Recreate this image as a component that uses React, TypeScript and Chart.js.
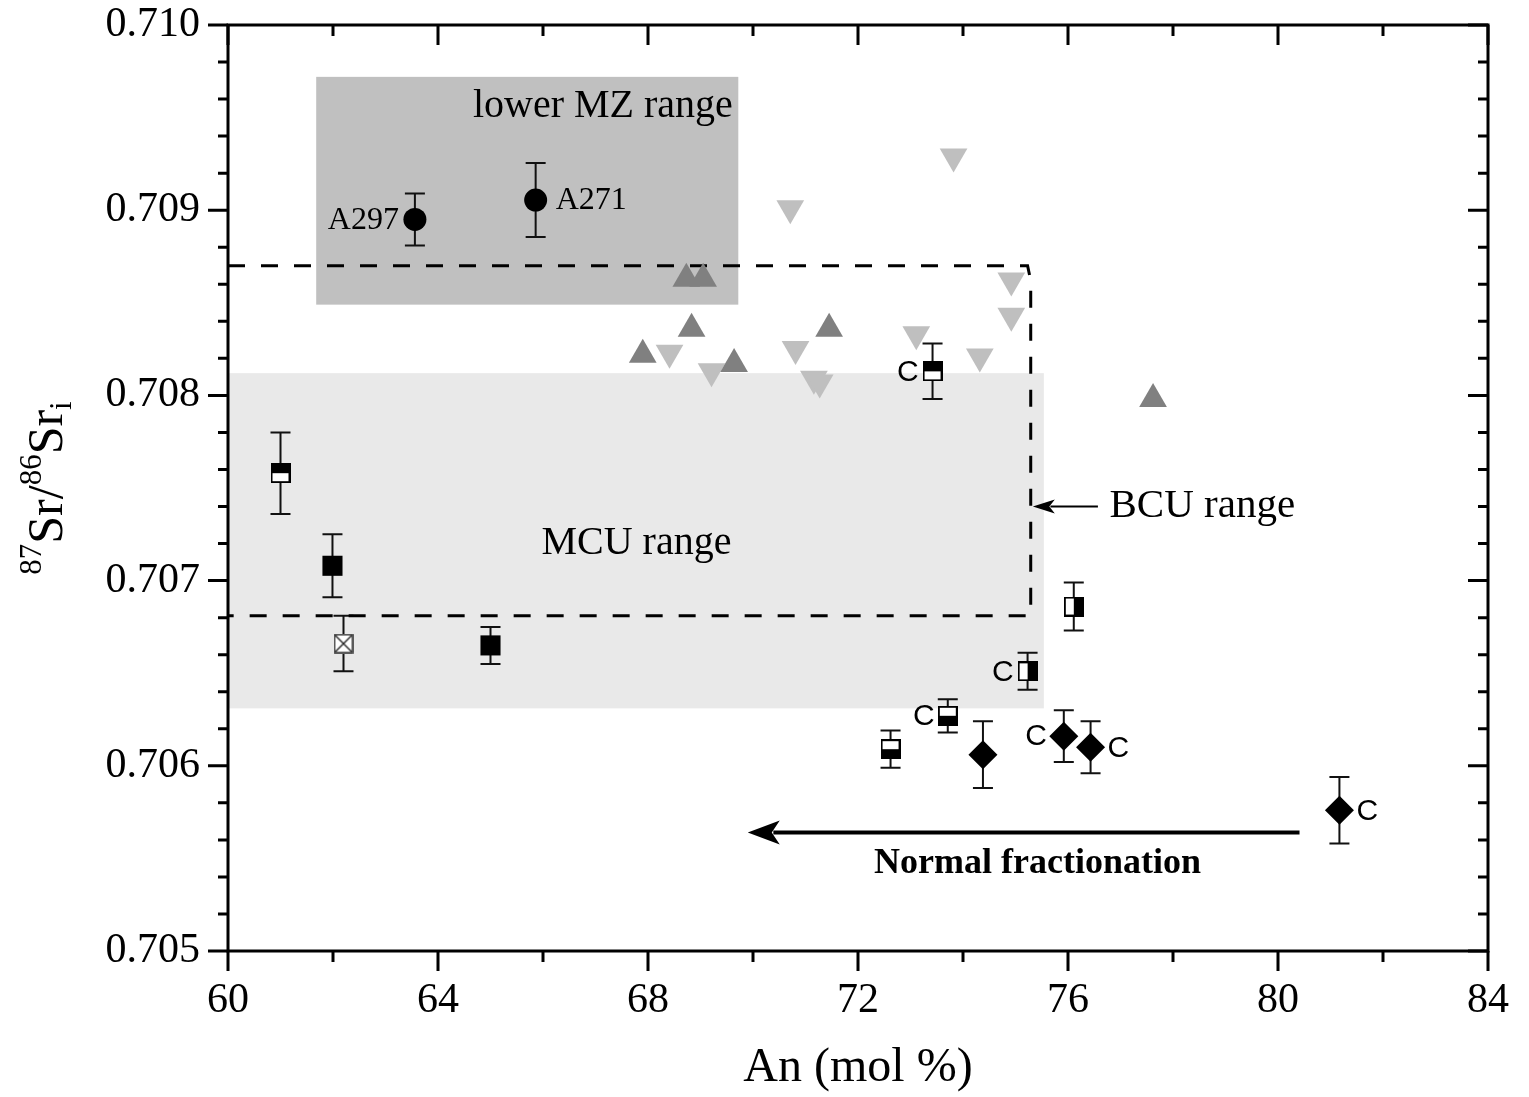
import React, { useEffect, useRef } from 'react';
import { Chart, registerables } from 'chart.js';

Chart.register(...registerables);

// ---- axis ticks ----
const xTickValues = [60, 64, 68, 72, 76, 80, 84];
const yTickValues = [0.705, 0.706, 0.707, 0.708, 0.709, 0.71];
const xMinorStep = 2;
const yMinorStep = 0.0002;

// ---- series (An mol %, 87Sr/86Sr_i, 1 sigma error) ----
const circleX = [63.56, 65.86];
const circleY = [0.70895, 0.709055];
const circleErr = [0.00014, 0.0002];
const circleNames = ['A297', 'A271'];

const solidSquareX = [61.99, 65.0];
const solidSquareY = [0.70708, 0.70665];
const solidSquareErr = [0.00017, 0.0001];

const topHalfSquareX = [61.0, 73.42];
const topHalfSquareY = [0.70758, 0.70813];
const topHalfSquareErr = [0.00022, 0.00015];
const topHalfSquareC = ['', 'L'];

const bottomHalfSquareX = [72.62, 73.71];
const bottomHalfSquareY = [0.70609, 0.70627];
const bottomHalfSquareErr = [0.0001, 0.00009];
const bottomHalfSquareC = ['', 'L'];

const rightHalfSquareX = [75.23, 76.11];
const rightHalfSquareY = [0.70651, 0.70686];
const rightHalfSquareErr = [0.0001, 0.00013];
const rightHalfSquareC = ['L', ''];

const crossSquareX = [62.2];
const crossSquareY = [0.70666];
const crossSquareErr = [0.00015];

const diamondX = [74.38, 75.92, 76.43, 81.17];
const diamondY = [0.70606, 0.70616, 0.7061, 0.70576];
const diamondErr = [0.00018, 0.00014, 0.00014, 0.00018];
const diamondC = ['', 'L', 'R', 'R'];

const upTriangleX = [67.9, 68.73, 68.83, 69.05, 69.64, 71.45, 77.62];
const upTriangleY = [0.70822, 0.70863, 0.70836, 0.70863, 0.70817, 0.70836, 0.70798];

const downTriangleX = [68.41, 69.21, 70.71, 70.81, 71.16, 71.27, 73.11, 73.82, 74.32, 74.92, 74.92];
const downTriangleY = [0.70823, 0.70813, 0.70901, 0.70825, 0.70809, 0.70807, 0.70833, 0.70929, 0.70821, 0.70862, 0.70843];

// ---- ranges ----
const mzRangeX = [61.68, 69.72];
const mzRangeY = [0.70849, 0.70972];
const mcuRangeX = [60, 75.54];
const mcuRangeY = [0.70631, 0.70812];
const bcuX = [60, 75.23, 75.29, 75.29, 60];
const bcuY = [0.7087, 0.7087, 0.70862, 0.70681, 0.70681];

// ---- arrows ----
const fractionArrowX = [80.41, 69.9];
const fractionArrowY = [0.70564, 0.70564];
const bcuArrowX = [76.57, 75.33];
const bcuArrowY = [0.7074, 0.7074];

// ---- text annotations (anchored in data space) ----
const annotationTexts = ['lower MZ range', 'MCU range', 'BCU range', 'Normal fractionation'];
const annotationX = [67.14, 67.78, 76.79, 75.42];
const annotationY = [0.70956, 0.7072, 0.7074, 0.70547];

const SERIF = "'Liberation Serif', 'Times New Roman', Times, serif";
const SANS = "'Liberation Sans', Arial, Helvetica, sans-serif";

const pts = (xs: number[], ys: number[]) => xs.map((x, i) => ({ x, y: ys[i] }));

export default function App() {
  const ref = useRef<HTMLCanvasElement>(null);

  useEffect(() => {
    const canvas = ref.current!;

    const makeMarker = (kind: string) => {
      const c = document.createElement('canvas');
      c.width = 20;
      c.height = 20;
      const g = c.getContext('2d')!;
      g.fillStyle = '#fff';
      g.fillRect(0, 0, 20, 20);
      g.fillStyle = '#000';
      if (kind === 'top') g.fillRect(0, 0, 20, 10);
      if (kind === 'bottom') g.fillRect(0, 10, 20, 10);
      if (kind === 'right') g.fillRect(10, 0, 10, 20);
      if (kind === 'cross') {
        g.strokeStyle = '#222';
        g.lineWidth = 1.4;
        g.beginPath();
        g.moveTo(2, 2);
        g.lineTo(18, 18);
        g.moveTo(18, 2);
        g.lineTo(2, 18);
        g.stroke();
      }
      g.strokeStyle = kind === 'cross' ? '#333' : '#000';
      g.lineWidth = kind === 'cross' ? 1.6 : 2;
      g.strokeRect(1, 1, 18, 18);
      return c;
    };

    const topMarker = makeMarker('top');
    const bottomMarker = makeMarker('bottom');
    const rightMarker = makeMarker('right');
    const crossMarker = makeMarker('cross');

    const overlay = {
      id: 'overlay',
      beforeDatasetsDraw(chart: any) {
        const { ctx } = chart;
        const xs = chart.scales.x;
        const ys = chart.scales.y;
        const fillRegion = (rx: number[], ry: number[], color: string) => {
          const x1 = xs.getPixelForValue(rx[0]);
          const x2 = xs.getPixelForValue(rx[1]);
          const y1 = ys.getPixelForValue(ry[1]);
          const y2 = ys.getPixelForValue(ry[0]);
          ctx.save();
          ctx.fillStyle = color;
          ctx.fillRect(x1, y1, x2 - x1, y2 - y1);
          ctx.restore();
        };
        fillRegion(mcuRangeX, mcuRangeY, '#e9e9e9');
        fillRegion(mzRangeX, mzRangeY, '#c0c0c0');

        // error bars
        ctx.save();
        ctx.strokeStyle = '#111';
        ctx.lineWidth = 2;
        chart.data.datasets.forEach((ds: any, i: number) => {
          if (!ds.errors) return;
          const meta = chart.getDatasetMeta(i);
          meta.data.forEach((el: any, j: number) => {
            const v = ds.data[j].y;
            const e = ds.errors[j];
            const px = el.x;
            const yTop = ys.getPixelForValue(v + e);
            const yBot = ys.getPixelForValue(v - e);
            ctx.beginPath();
            ctx.moveTo(px, yTop);
            ctx.lineTo(px, yBot);
            ctx.moveTo(px - 10, yTop);
            ctx.lineTo(px + 10, yTop);
            ctx.moveTo(px - 10, yBot);
            ctx.lineTo(px + 10, yBot);
            ctx.stroke();
          });
        });
        ctx.restore();
      },
      afterDatasetsDraw(chart: any) {
        const { ctx } = chart;
        const xs = chart.scales.x;
        const ys = chart.scales.y;

        // sample name labels
        ctx.save();
        ctx.fillStyle = '#000';
        ctx.textBaseline = 'middle';
        ctx.font = `32px ${SERIF}`;
        circleNames.forEach((name, i) => {
          const px = xs.getPixelForValue(circleX[i]);
          const py = ys.getPixelForValue(circleY[i]);
          if (i === 0) {
            ctx.textAlign = 'right';
            ctx.fillText(name, px - 16, py + 1);
          } else {
            ctx.textAlign = 'left';
            ctx.fillText(name, px + 20, py + 1);
          }
        });

        // "C" labels
        ctx.font = `30px ${SANS}`;
        const cLabels = (X: number[], Y: number[], flags: string[], off: number) => {
          flags.forEach((f, i) => {
            if (!f) return;
            const px = xs.getPixelForValue(X[i]);
            const py = ys.getPixelForValue(Y[i]);
            if (f === 'L') {
              ctx.textAlign = 'right';
              ctx.fillText('C', px - off, py + 1);
            } else {
              ctx.textAlign = 'left';
              ctx.fillText('C', px + off, py + 1);
            }
          });
        };
        cLabels(topHalfSquareX, topHalfSquareY, topHalfSquareC, 14);
        cLabels(bottomHalfSquareX, bottomHalfSquareY, bottomHalfSquareC, 13);
        cLabels(rightHalfSquareX, rightHalfSquareY, rightHalfSquareC, 14);
        cLabels(diamondX, diamondY, diamondC, 17);

        // annotations
        annotationTexts.forEach((t, i) => {
          const px = xs.getPixelForValue(annotationX[i]);
          const py = ys.getPixelForValue(annotationY[i]);
          if (i === 3) {
            ctx.font = `bold 36px ${SERIF}`;
            ctx.textAlign = 'center';
          } else if (i === 2) {
            ctx.font = `41px ${SERIF}`;
            ctx.textAlign = 'left';
          } else {
            ctx.font = `40px ${SERIF}`;
            ctx.textAlign = 'center';
          }
          ctx.fillText(t, px, py);
        });

        // arrows
        const arrow = (AX: number[], AY: number[], lw: number, headLen: number, headHalf: number) => {
          const x1 = xs.getPixelForValue(AX[0]);
          const y1 = ys.getPixelForValue(AY[0]);
          const x2 = xs.getPixelForValue(AX[1]);
          const y2 = ys.getPixelForValue(AY[1]);
          const ang = Math.atan2(y2 - y1, x2 - x1);
          const bx = x2 - Math.cos(ang) * headLen * 0.8;
          const by = y2 - Math.sin(ang) * headLen * 0.8;
          ctx.strokeStyle = '#000';
          ctx.lineWidth = lw;
          ctx.beginPath();
          ctx.moveTo(x1, y1);
          ctx.lineTo(bx, by);
          ctx.stroke();
          ctx.fillStyle = '#000';
          ctx.beginPath();
          ctx.moveTo(x2, y2);
          const hx = x2 - Math.cos(ang) * headLen;
          const hy = y2 - Math.sin(ang) * headLen;
          ctx.lineTo(hx - Math.sin(ang) * headHalf, hy + Math.cos(ang) * headHalf);
          ctx.lineTo(x2 - Math.cos(ang) * headLen * 0.75, y2 - Math.sin(ang) * headLen * 0.75);
          ctx.lineTo(hx + Math.sin(ang) * headHalf, hy - Math.cos(ang) * headHalf);
          ctx.closePath();
          ctx.fill();
        };
        arrow(fractionArrowX, fractionArrowY, 4, 32, 12);
        arrow(bcuArrowX, bcuArrowY, 2, 22, 7);
        ctx.restore();
      },
      afterDraw(chart: any) {
        const { ctx, chartArea } = chart;
        const xs = chart.scales.x;
        const ys = chart.scales.y;
        const { left, right, top, bottom } = chartArea;
        ctx.save();
        ctx.strokeStyle = '#000';
        ctx.lineWidth = 3;
        ctx.strokeRect(left, top, right - left, bottom - top);
        ctx.beginPath();
        const xMin = xTickValues[0];
        const xMax = xTickValues[xTickValues.length - 1];
        const nx = Math.round((xMax - xMin) / xMinorStep);
        for (let k = 0; k <= nx; k++) {
          const v = xMin + k * xMinorStep;
          const px = xs.getPixelForValue(v);
          const major = xTickValues.some((t) => Math.abs(t - v) < 1e-9);
          const len = major ? 20 : 11;
          ctx.moveTo(px, bottom);
          ctx.lineTo(px, bottom + len);
          ctx.moveTo(px, top);
          ctx.lineTo(px, top + len);
        }
        const yMin = yTickValues[0];
        const yMax = yTickValues[yTickValues.length - 1];
        const ny = Math.round((yMax - yMin) / yMinorStep);
        for (let k = 0; k <= ny; k++) {
          const v = yMin + k * yMinorStep;
          const py = ys.getPixelForValue(v);
          const major = yTickValues.some((t) => Math.abs(t - v) < 1e-9);
          const len = major ? 20 : 10;
          ctx.moveTo(left - len, py);
          ctx.lineTo(left, py);
          ctx.moveTo(right - len, py);
          ctx.lineTo(right, py);
        }
        ctx.stroke();

        // y-axis title with super/subscripts
        ctx.translate(45, (top + bottom) / 2);
        ctx.rotate(-Math.PI / 2);
        ctx.fillStyle = '#000';
        ctx.textAlign = 'left';
        ctx.textBaseline = 'alphabetic';
        const parts = [
          { t: '87', size: 31, dy: -21 },
          { t: 'Sr', size: 50, dy: 0 },
          { t: '/', size: 50, dy: 0 },
          { t: '86', size: 31, dy: -21 },
          { t: 'Sr', size: 50, dy: 0 },
          { t: 'i', size: 31, dy: 9 },
        ];
        let total = 0;
        const widths = parts.map((p) => {
          ctx.font = `${p.size}px ${SERIF}`;
          const w = ctx.measureText(p.t).width;
          total += w;
          return w;
        });
        let cx = -total / 2;
        const base = 17;
        parts.forEach((p, i) => {
          ctx.font = `${p.size}px ${SERIF}`;
          ctx.fillText(p.t, cx, base + p.dy);
          cx += widths[i];
        });
        ctx.restore();
      },
    };

    const chart = new Chart(canvas, {
      type: 'scatter',
      data: {
        datasets: [
          {
            label: 'circles',
            data: pts(circleX, circleY),
            errors: circleErr,
            pointStyle: 'circle',
            pointRadius: 11.5,
            backgroundColor: '#000',
            pointBorderWidth: 0,
            borderWidth: 0,
          } as any,
          {
            label: 'solid squares',
            data: pts(solidSquareX, solidSquareY),
            errors: solidSquareErr,
            pointStyle: 'rect',
            pointRadius: 14.2,
            backgroundColor: '#000',
            pointBorderWidth: 0,
            borderWidth: 0,
          } as any,
          {
            label: 'top half squares',
            data: pts(topHalfSquareX, topHalfSquareY),
            errors: topHalfSquareErr,
            pointStyle: topMarker,
            pointRadius: 10,
          } as any,
          {
            label: 'bottom half squares',
            data: pts(bottomHalfSquareX, bottomHalfSquareY),
            errors: bottomHalfSquareErr,
            pointStyle: bottomMarker,
            pointRadius: 10,
          } as any,
          {
            label: 'right half squares',
            data: pts(rightHalfSquareX, rightHalfSquareY),
            errors: rightHalfSquareErr,
            pointStyle: rightMarker,
            pointRadius: 10,
          } as any,
          {
            label: 'crossed square',
            data: pts(crossSquareX, crossSquareY),
            errors: crossSquareErr,
            pointStyle: crossMarker,
            pointRadius: 10,
          } as any,
          {
            label: 'diamonds',
            data: pts(diamondX, diamondY),
            errors: diamondErr,
            pointStyle: 'rectRot',
            pointRadius: 14.5,
            backgroundColor: '#000',
            pointBorderWidth: 0,
            borderWidth: 0,
          } as any,
          {
            label: 'up triangles',
            data: pts(upTriangleX, upTriangleY),
            pointStyle: 'triangle',
            pointRadius: 16,
            backgroundColor: '#808080',
            pointBorderWidth: 0,
            borderWidth: 0,
          } as any,
          {
            label: 'down triangles',
            data: pts(downTriangleX, downTriangleY),
            pointStyle: 'triangle',
            pointRotation: 180,
            pointRadius: 16,
            backgroundColor: '#bfbfbf',
            pointBorderWidth: 0,
            borderWidth: 0,
          } as any,
          {
            label: 'BCU range',
            data: pts(bcuX, bcuY),
            showLine: true,
            borderColor: '#000',
            borderWidth: 3,
            borderDash: [17, 16],
            pointRadius: 0,
            fill: false,
            tension: 0,
          } as any,
        ],
      },
      options: {
        animation: false,
        responsive: false,
        events: [],
        layout: { padding: { left: 0, right: 41, top: 25, bottom: 0 } },
        plugins: {
          legend: { display: false },
          tooltip: { enabled: false },
        },
        scales: {
          x: {
            type: 'linear',
            min: 60,
            max: 84,
            grid: { display: false, drawTicks: false },
            border: { display: false },
            afterBuildTicks: (scale: any) => {
              scale.ticks = xTickValues.map((v) => ({ value: v }));
            },
            afterFit: (scale: any) => {
              scale.height = 146;
              scale.paddingLeft = 0;
              scale.paddingRight = 0;
              scale.paddingTop = 0;
              scale.paddingBottom = 0;
            },
            ticks: {
              autoSkip: false,
              maxRotation: 0,
              padding: 25,
              color: '#000',
              font: { family: SERIF, size: 42 },
              callback: (v: any) => String(v),
            },
            title: {
              display: true,
              text: 'An (mol %)',
              color: '#000',
              font: { family: SERIF, size: 48 },
              padding: { top: 0, bottom: 0 },
            },
          },
          y: {
            type: 'linear',
            min: 0.705,
            max: 0.71,
            grid: { display: false, drawTicks: false },
            border: { display: false },
            afterBuildTicks: (scale: any) => {
              scale.ticks = yTickValues.map((v) => ({ value: v }));
            },
            afterFit: (scale: any) => {
              scale.width = 228;
              scale.paddingLeft = 0;
              scale.paddingRight = 0;
              scale.paddingTop = 0;
              scale.paddingBottom = 0;
            },
            ticks: {
              autoSkip: false,
              padding: 28,
              color: '#000',
              font: { family: SERIF, size: 42 },
              callback: (v: any) => Number(v).toFixed(3),
            },
          },
        },
      } as any,
      plugins: [overlay],
    });

    return () => chart.destroy();
  }, []);

  return (
    <div style={{ position: 'fixed', left: 0, top: 0, width: 1529, height: 1097, background: '#fff' }}>
      <canvas ref={ref} width={1529} height={1097} style={{ display: 'block' }} />
    </div>
  );
}
